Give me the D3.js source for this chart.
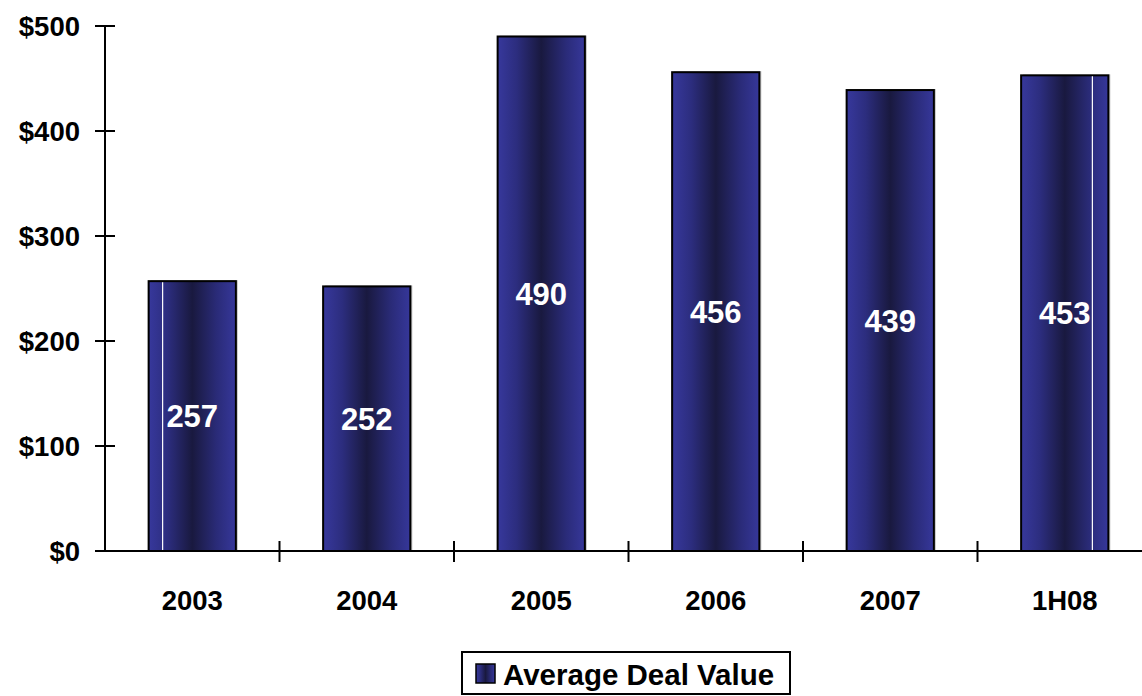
<!DOCTYPE html>
<html>
<head>
<meta charset="utf-8">
<script src="https://cdn.jsdelivr.net/npm/d3@7"></script>
<style>
  html, body { margin: 0; padding: 0; background: #fff; }
  svg { display: block; font-family: "Liberation Sans", Arial, sans-serif; font-weight: bold; }
</style>
</head>
<body>
<svg id="chart" width="1142" height="696"></svg>
<script>
// Average deal value by period ($)
const categories = ["2003", "2004", "2005", "2006", "2007", "1H08"];
const dealValues = [257, 252, 490, 456, 439, 453];
const yTicks = [0, 100, 200, 300, 400, 500];
const seriesName = "Average Deal Value";

const svg = d3.select("#chart");
const margin = { left: 105, right: -10, top: 26, bottom: 145 };
const W = 1142, H = 696;

const x = d3.scaleBand()
  .domain(categories)
  .range([margin.left, W - margin.right])
  .paddingInner(0.5)
  .paddingOuter(0.25);

const y = d3.scaleLinear()
  .domain([0, 500])
  .range([H - margin.bottom, margin.top]);

// bar fill: dark centre fading to brighter blue edges
const defs = svg.append("defs");
const grad = defs.append("linearGradient").attr("id", "barGrad")
  .attr("x1", "0%").attr("x2", "100%").attr("y1", "0%").attr("y2", "0%");
[["0%", "#37389c"], ["22%", "#2c2d7e"], ["50%", "#19193f"], ["78%", "#2a2b78"], ["100%", "#36379a"]]
  .forEach(([o, c]) => grad.append("stop").attr("offset", o).attr("stop-color", c));

// bars with a light drop shadow
const bars = svg.append("g");
bars.selectAll("rect.shadow").data(dealValues).join("rect")
  .attr("class", "shadow")
  .attr("x", (d, i) => x(categories[i]) + 2)
  .attr("y", d => y(d) - 1)
  .attr("width", x.bandwidth())
  .attr("height", d => y(0) - y(d))
  .attr("fill", "#c8c8c8");
bars.selectAll("rect.bar").data(dealValues).join("rect")
  .attr("class", "bar")
  .attr("x", (d, i) => x(categories[i]))
  .attr("y", d => y(d))
  .attr("width", x.bandwidth())
  .attr("height", d => y(0) - y(d))
  .attr("fill", "url(#barGrad)")
  .attr("stroke", "#000")
  .attr("stroke-width", 2);

// thin highlight strokes on the first and last bars
const highlights = [{ i: 0, dx: 14 }, { i: 5, dx: x.bandwidth() - 16 }];
bars.selectAll("line.hl").data(highlights).join("line")
  .attr("class", "hl")
  .attr("x1", d => x(categories[d.i]) + d.dx)
  .attr("x2", d => x(categories[d.i]) + d.dx)
  .attr("y1", d => y(dealValues[d.i]) + 1)
  .attr("y2", y(0))
  .attr("stroke", "#fff")
  .attr("stroke-width", 1.2);

// value labels at mid-height of each bar
svg.append("g").selectAll("text").data(dealValues).join("text")
  .attr("x", (d, i) => x(categories[i]) + x.bandwidth() / 2)
  .attr("y", d => (y(d) + y(0)) / 2)
  .attr("dy", "0.36em")
  .attr("text-anchor", "middle")
  .attr("fill", "#fff")
  .attr("font-size", 31)
  .text(d => d);

// y axis
const yAxis = svg.append("g");
yAxis.append("line")
  .attr("x1", margin.left).attr("x2", margin.left)
  .attr("y1", y(500)).attr("y2", y(0))
  .attr("stroke", "#000").attr("stroke-width", 2);
yAxis.selectAll("line.tick").data(yTicks).join("line")
  .attr("class", "tick")
  .attr("x1", margin.left - 10).attr("x2", margin.left + 10)
  .attr("y1", d => y(d)).attr("y2", d => y(d))
  .attr("stroke", "#000").attr("stroke-width", 2);
yAxis.selectAll("text").data(yTicks).join("text")
  .attr("x", 80)
  .attr("y", d => y(d))
  .attr("dy", "0.36em")
  .attr("text-anchor", "end")
  .attr("font-size", 27.5)
  .text(d => "$" + d);

// x axis with ticks at category boundaries
const xAxis = svg.append("g");
xAxis.append("line")
  .attr("x1", margin.left).attr("x2", W)
  .attr("y1", y(0)).attr("y2", y(0))
  .attr("stroke", "#000").attr("stroke-width", 2);
const boundaries = d3.range(categories.length + 1).map(i => margin.left + i * x.step());
xAxis.selectAll("line.tick").data(boundaries.slice(1)).join("line")
  .attr("class", "tick")
  .attr("x1", d => d).attr("x2", d => d)
  .attr("y1", y(0) - 10).attr("y2", y(0) + 11)
  .attr("stroke", "#000").attr("stroke-width", 2);
xAxis.selectAll("text").data(categories).join("text")
  .attr("x", d => x(d) + x.bandwidth() / 2)
  .attr("y", 610)
  .attr("text-anchor", "middle")
  .attr("font-size", 27.5)
  .text(d => d);

// legend
const legend = svg.append("g");
legend.append("rect")
  .attr("x", 462).attr("y", 652).attr("width", 328).attr("height", 42)
  .attr("fill", "#fff").attr("stroke", "#000").attr("stroke-width", 2);
legend.append("rect")
  .attr("x", 476).attr("y", 664).attr("width", 19).attr("height", 19)
  .attr("fill", "url(#barGrad)").attr("stroke", "#000").attr("stroke-width", 1.5);
legend.append("text")
  .attr("x", 503).attr("y", 685)
  .attr("font-size", 29.5)
  .text(seriesName);
</script>
</body>
</html>
